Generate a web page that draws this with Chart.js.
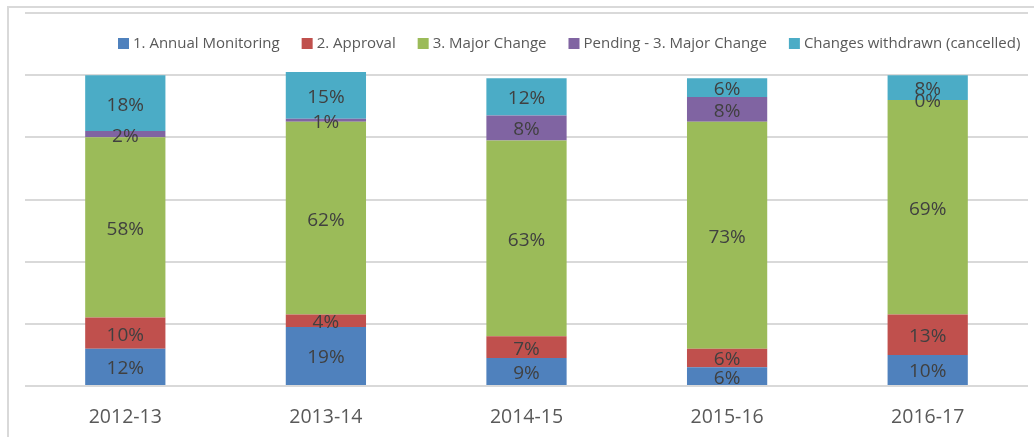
<!DOCTYPE html>
<html>
<head>
<meta charset="utf-8">
<script src="https://cdn.jsdelivr.net/npm/chart.js@4"></script>
<style>
html,body{margin:0;padding:0;background:#fff;}
#wrap{width:1034px;height:437px;position:relative;}
</style>
</head>
<body>
<div id="wrap"><canvas id="c" width="1034" height="437"></canvas></div>
<script>
const categories = ['2012-13', '2013-14', '2014-15', '2015-16', '2016-17'];
const seriesNames = ['1. Annual Monitoring', '2. Approval', '3. Major Change', 'Pending - 3. Major Change', 'Changes withdrawn (cancelled)'];
const annualMonitoring = [12, 19, 9, 6, 10];
const approval = [10, 4, 7, 6, 13];
const majorChange = [58, 62, 63, 73, 69];
const pendingMajorChange = [2, 1, 8, 8, 0];
const changesWithdrawn = [18, 15, 12, 6, 8];
const yTickValues = [0, 20, 40, 60, 80, 100, 120];

const seriesValues = [annualMonitoring, approval, majorChange, pendingMajorChange, changesWithdrawn];
const colors = ['#4F81BD', '#C0504D', '#9BBB59', '#8064A2', '#4BACC6'];
const FONT = '"Open Sans", "DejaVu Sans", sans-serif';

const framePlugin = {
  id: 'frame',
  beforeDraw(chart) {
    const ctx = chart.ctx;
    ctx.save();
    ctx.fillStyle = '#ffffff';
    ctx.fillRect(0, 0, chart.width, chart.height);
    ctx.strokeStyle = '#d9d9d9';
    ctx.lineWidth = 2;
    ctx.beginPath();
    ctx.moveTo(8, chart.height);
    ctx.lineTo(8, 7);
    ctx.lineTo(chart.width, 7);
    ctx.stroke();
    ctx.restore();
  }
};

const labelPlugin = {
  id: 'segLabels',
  afterDatasetsDraw(chart) {
    const ctx = chart.ctx;
    ctx.save();
    ctx.font = '19px ' + FONT;
    ctx.fillStyle = '#404040';
    ctx.textAlign = 'center';
    ctx.textBaseline = 'middle';
    chart.data.datasets.forEach((ds, di) => {
      const meta = chart.getDatasetMeta(di);
      meta.data.forEach((el, i) => {
        const cy = (el.y + el.base) / 2;
        ctx.fillText(ds.data[i] + '%', el.x, cy + 2);
      });
    });
    ctx.restore();
  }
};

const legendPlugin = {
  id: 'customLegend',
  afterDraw(chart) {
    const ctx = chart.ctx;
    ctx.save();
    ctx.font = '15px ' + FONT;
    ctx.textBaseline = 'middle';
    ctx.textAlign = 'left';
    let x = 118;
    const y = 43;
    chart.data.datasets.forEach((ds) => {
      ctx.fillStyle = ds.backgroundColor;
      ctx.fillRect(x, y - 5, 11, 11);
      ctx.fillStyle = '#595959';
      ctx.fillText(ds.label, x + 15, y + 1);
      x += 15 + ctx.measureText(ds.label).width + 22;
    });
    ctx.restore();
  }
};

new Chart(document.getElementById('c'), {
  type: 'bar',
  data: {
    labels: categories,
    datasets: seriesNames.map((name, i) => ({
      label: name,
      data: seriesValues[i],
      backgroundColor: colors[i],
      borderWidth: 0,
      barPercentage: 0.4,
      categoryPercentage: 1.0
    }))
  },
  options: {
    responsive: false,
    animation: false,
    layout: { padding: { left: 25, right: 6, top: 13, bottom: 0 } },
    plugins: {
      legend: { display: false },
      tooltip: { enabled: false },
      title: { display: false }
    },
    scales: {
      x: {
        stacked: true,
        grid: { display: false },
        border: { display: false },
        ticks: { color: '#595959', font: { family: FONT, size: 19.5 }, padding: 12 },
        afterFit(axis) { axis.height = 51; }
      },
      y: {
        stacked: true,
        min: yTickValues[0],
        max: yTickValues[yTickValues.length - 1],
        afterBuildTicks(axis) { axis.ticks = yTickValues.map(v => ({ value: v })); },
        ticks: { display: false },
        grid: { color: '#d9d9d9', lineWidth: 2, drawTicks: false },
        border: { display: false },
        afterFit(axis) { axis.width = 0; }
      }
    }
  },
  plugins: [framePlugin, labelPlugin, legendPlugin]
});
</script>
</body>
</html>
